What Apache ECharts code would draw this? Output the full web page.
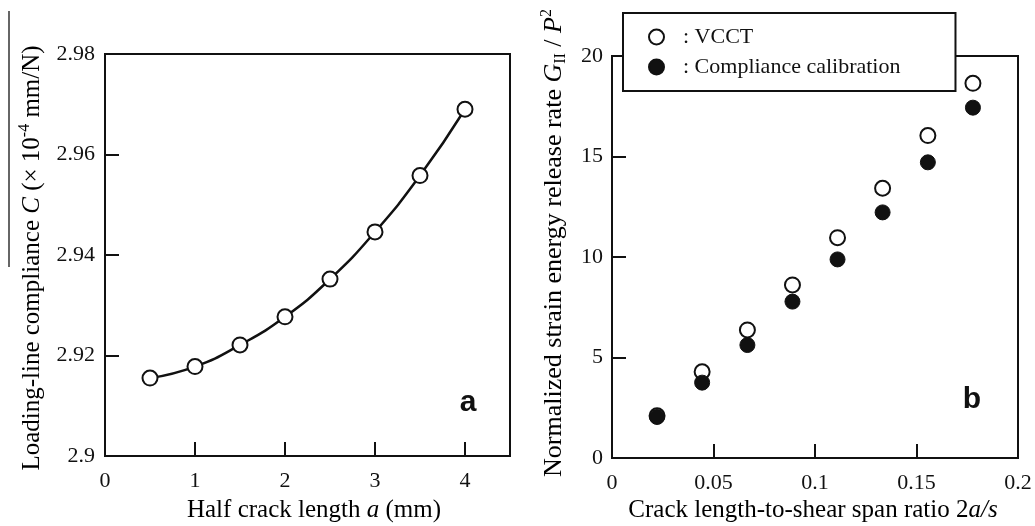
<!DOCTYPE html>
<html>
<head>
<meta charset="utf-8">
<style>
  html, body { margin: 0; padding: 0; background: #fff; }
  #chart { width: 1035px; height: 526px; }
</style>
<script src="https://cdn.jsdelivr.net/npm/echarts@6/dist/echarts.min.js"></script>
</head>
<body>
<div id="chart"></div>
<script>
// Panel a: loading-line compliance vs half crack length
const halfCrackLength = [0.5, 1.0, 1.5, 2.0, 2.5, 3.0, 3.5, 4.0];            // a (mm)
const compliance = [2.9155, 2.9178, 2.9221, 2.9277, 2.9352, 2.9446, 2.9558, 2.9690]; // C (x1e-4 mm/N)

// Panel b: normalized strain energy release rate vs 2a/s
const spanRatio = [0.0222, 0.0444, 0.0667, 0.0889, 0.1111, 0.1333, 0.1556, 0.1778];
const vcct = [2.10, 4.29, 6.37, 8.61, 10.96, 13.42, 16.04, 18.64];
const complianceCalibration = [2.04, 3.75, 5.62, 7.78, 9.88, 12.22, 14.71, 17.43];

const seriesNames = ['VCCT', 'Compliance calibration'];

const INK = '#111';
const SERIF = '"Liberation Serif", "DejaVu Serif", serif';
const SANS = '"Liberation Sans", Arial, sans-serif';

const pairs = (xs, ys) => xs.map((x, i) => [x, ys[i]]);

function axisCommon(labelMargin) {
  return {
    axisLine: { show: true, onZero: false, lineStyle: { color: INK, width: 2 } },
    axisTick: { show: true, inside: true, length: 14, lineStyle: { color: INK, width: 2 } },
    splitLine: { show: false },
    axisLabel: { color: INK, fontSize: 22, fontFamily: SERIF, margin: labelMargin }
  };
}

function richName(size) {
  return {
    n: { fontSize: size, fontFamily: SERIF, color: INK, lineHeight: 30 },
    i: { fontSize: size, fontFamily: SERIF, fontStyle: 'italic', color: INK, lineHeight: 30 },
    sup: { fontSize: 16, fontFamily: SERIF, color: INK, verticalAlign: 'top', lineHeight: 16 },
    sub: { fontSize: 16, fontFamily: SERIF, color: INK, verticalAlign: 'bottom', lineHeight: 16 }
  };
}

const chart = echarts.init(document.getElementById('chart'), null, { renderer: 'canvas' });

const option = {
  backgroundColor: '#fff',
  animation: false,
  grid: [
    { left: 105, top: 54, width: 405, height: 402, show: true, borderColor: INK, borderWidth: 2, backgroundColor: 'transparent' },
    { left: 612, top: 56, width: 406, height: 402, show: true, borderColor: INK, borderWidth: 2, backgroundColor: 'transparent' }
  ],
  xAxis: [
    Object.assign(axisCommon(14), {
      type: 'value', gridIndex: 0, min: 0, max: 4.5, interval: 1
    }),
    Object.assign(axisCommon(14), {
      type: 'value', gridIndex: 1, min: 0, max: 0.2, interval: 0.05
    })
  ],
  yAxis: [
    Object.assign(axisCommon(10), {
      type: 'value', gridIndex: 0, min: 2.9, max: 2.98, interval: 0.02
    }),
    Object.assign(axisCommon(9), {
      type: 'value', gridIndex: 1, min: 0, max: 20, interval: 5
    })
  ],
  legend: {
    orient: 'vertical',
    left: 623,
    top: 13,
    data: seriesNames,
    backgroundColor: '#fff',
    borderColor: INK,
    borderWidth: 2,
    borderRadius: 0,
    padding: [13, 55, 13, 25],
    itemGap: 8,
    itemWidth: 15,
    itemHeight: 15,
    icon: 'circle',
    formatter: ': {name}',
    selectedMode: false,
    textStyle: { color: INK, fontSize: 22, fontFamily: SERIF, padding: [0, 0, 0, 14] }
  },
  series: [
    {
      type: 'line',
      xAxisIndex: 0, yAxisIndex: 0,
      data: pairs(halfCrackLength, compliance),
      smooth: 0.5,
      symbol: 'circle',
      symbolSize: 15,
      lineStyle: { color: INK, width: 2.5 },
      itemStyle: { color: '#fff', borderColor: INK, borderWidth: 2 },
      z: 3
    },
    {
      name: seriesNames[0],
      type: 'scatter',
      xAxisIndex: 1, yAxisIndex: 1,
      data: pairs(spanRatio, vcct),
      symbol: 'circle',
      symbolSize: 15,
      itemStyle: { color: '#fff', borderColor: INK, borderWidth: 2, opacity: 1 },
      z: 3
    },
    {
      name: seriesNames[1],
      type: 'scatter',
      xAxisIndex: 1, yAxisIndex: 1,
      data: pairs(spanRatio, complianceCalibration),
      symbol: 'circle',
      symbolSize: 15,
      itemStyle: { color: INK, borderColor: INK, borderWidth: 1, opacity: 1 },
      z: 4
    }
  ],
  graphic: [
    // thin rule at the far left edge
    { type: 'line', shape: { x1: 9, y1: 11, x2: 9, y2: 267 }, style: { stroke: '#333', lineWidth: 1.5 }, silent: true },
    // panel letters
    { type: 'text', x: 468, y: 403, style: { text: 'a', font: 'bold 30px ' + SANS, fill: INK, align: 'center', verticalAlign: 'middle' } },
    { type: 'text', x: 972, y: 400, style: { text: 'b', font: 'bold 30px ' + SANS, fill: INK, align: 'center', verticalAlign: 'middle' } },
    // axis titles
    {
      type: 'text', x: 32, y: 258, rotation: Math.PI / 2,
      style: {
        text: '{n|Loading-line compliance }{i|C}{n| (× 10}{sup|-4}{n| mm/N)}',
        rich: richName(25), align: 'center', verticalAlign: 'middle'
      }
    },
    {
      type: 'text', x: 314, y: 510,
      style: {
        text: '{n|Half crack length }{i|a}{n| (mm)}',
        rich: richName(25), align: 'center', verticalAlign: 'middle'
      }
    },
    {
      type: 'text', x: 554, y: 243, rotation: Math.PI / 2,
      style: {
        text: '{n|Normalized strain energy release rate }{i|G}{sub|II}{n| / }{i|P}{sup|2}',
        rich: richName(26), align: 'center', verticalAlign: 'middle'
      }
    },
    {
      type: 'text', x: 813, y: 510,
      style: {
        text: '{n|Crack length-to-shear span ratio 2}{i|a/s}',
        rich: richName(25), align: 'center', verticalAlign: 'middle'
      }
    }
  ]
};

// hide the 4.5 end label on panel a's x axis
option.xAxis[0].axisLabel.showMaxLabel = false;
option.yAxis[0].axisLabel.formatter = v => String(+v.toFixed(2));
option.xAxis[1].axisLabel.formatter = v => String(+v.toFixed(2));

chart.setOption(option);
</script>
</body>
</html>
